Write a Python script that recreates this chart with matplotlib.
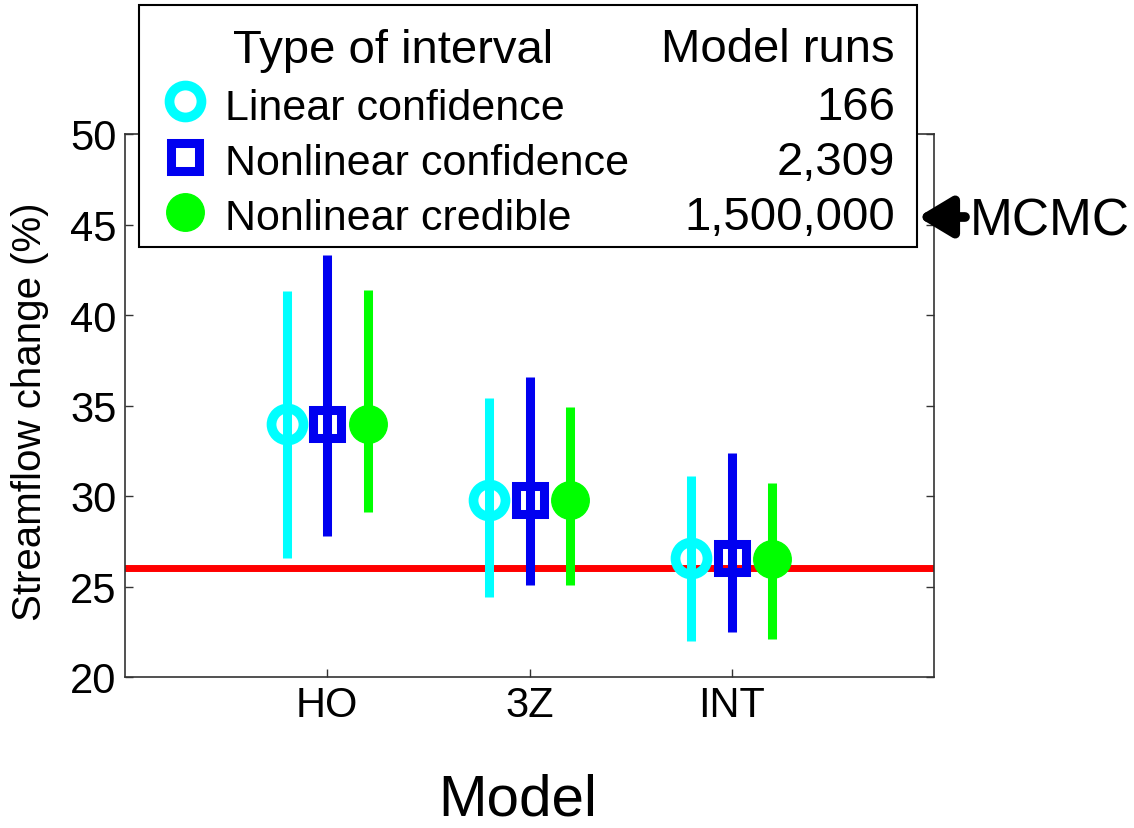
import matplotlib
matplotlib.use('Agg')
import matplotlib.pyplot as plt
from matplotlib.patches import Rectangle
from matplotlib.lines import Line2D

plt.rcParams['font.family'] = ['Liberation Sans', 'DejaVu Sans']

models = ['HO', '3Z', 'INT']
interval_types = ['Linear confidence', 'Nonlinear confidence', 'Nonlinear credible']
model_runs = ['166', '2,309', '1,500,000']

# best estimates and interval bounds, streamflow change (%)
linear_mid = [34.0, 29.8, 26.6]
linear_low = [26.6, 24.4, 22.0]
linear_high = [41.3, 35.4, 31.1]

nonlin_mid = [34.0, 29.8, 26.6]
nonlin_low = [27.8, 25.1, 22.5]
nonlin_high = [43.3, 36.6, 32.4]

cred_mid = [34.0, 29.8, 26.5]
cred_low = [29.1, 25.1, 22.1]
cred_high = [41.4, 34.9, 30.7]

observed = 26.0

W, H = 1134, 829


def px(x, y):
    # pixel position (from top-left) -> figure fraction
    return x / W, 1 - y / H


def main():
    fig = plt.figure(figsize=(W / 100, H / 100), dpi=100)
    ax = fig.add_axes([125 / W, 1 - 678 / H, (934 - 125) / W, (678 - 135) / H])

    series = [
        (linear_mid, linear_low, linear_high, '#00ffff', 'o', 'none', 23, 7),
        (nonlin_mid, nonlin_low, nonlin_high, '#0000f0', 's', 'none', 20, 6.5),
        (cred_mid, cred_low, cred_high, '#00ff00', 'o', '#00ff00', 27, 1),
    ]
    offsets = [-0.2, 0.0, 0.2]
    xpos = list(range(1, len(models) + 1))

    ax.axhline(observed, color='#ff0000', lw=5, zorder=1)

    for (mid, low, high, col, mk, fc, ms, mew), off in zip(series, offsets):
        xs = [x + off for x in xpos]
        ax.vlines(xs, low, high, colors=col, lw=6.5, zorder=2)
        ax.plot(xs, mid, linestyle='none', marker=mk, ms=ms, mew=mew,
                mec=col, mfc=fc, zorder=3)

    ax.set_xlim(0, 4)
    ax.set_ylim(20, 50)
    ax.set_yticks(range(20, 51, 5))
    ax.set_xticks(xpos)
    ax.set_xticklabels(models)
    ax.tick_params(direction='in', length=6, width=1, labelsize=30, pad=6,
                   right=True, top=True, color='#333333')
    for sp in ax.spines.values():
        sp.set_color('#333333')
        sp.set_linewidth(1.2)

    ax.set_ylabel('Streamflow change (%)', fontsize=29)
    ax.yaxis.set_label_coords((49 - 125) / 809, 0.49)
    ax.set_xlabel('Model', fontsize=42)
    ax.xaxis.label.set_verticalalignment('baseline')
    ax.xaxis.set_label_coords((518 - 125) / 809, (678 - 816) / 543)

    # legend box drawn above the axes
    x0, y0 = px(139, 248)
    x1, y1 = px(917, 6)
    fig.add_artist(Rectangle((x0, y0), x1 - x0, y1 - y0, transform=fig.transFigure,
                             facecolor='white', edgecolor='black', lw=1.5, zorder=5))

    fs = 31
    fs_head = 34
    fig.text(*px(233, 63), 'Type of interval', fontsize=fs_head, va='baseline', zorder=6)
    fig.text(*px(895, 62), 'Model runs', fontsize=fs_head, ha='right', va='baseline', zorder=6)

    marker_y = [102, 158, 213]
    base_y = [120, 175, 230]
    for (mid, low, high, col, mk, fc, ms, mew), label, runs, my, by in zip(
            series, interval_types, model_runs, marker_y, base_y):
        lx, ly = px(185, my)
        fig.add_artist(Line2D([lx], [ly], transform=fig.transFigure, marker=mk,
                              ms=ms, mew=mew, mec=col,
                              mfc='white' if fc == 'none' else fc, zorder=6))
        fig.text(*px(225, by), label, fontsize=fs, va='baseline', zorder=6)
        fig.text(*px(895, by), runs, fontsize=fs_head, ha='right', va='baseline', zorder=6)

    # arrow pointing at the MCMC row
    ax.annotate('', xy=px(918, 218), xytext=px(965, 218),
                xycoords='figure fraction', textcoords='figure fraction',
                arrowprops=dict(arrowstyle='-|>,head_length=0.5,head_width=0.3',
                                mutation_scale=40, lw=7, color='black',
                                shrinkA=0, shrinkB=0),
                annotation_clip=False, zorder=7)
    fig.text(*px(970, 236), 'MCMC', fontsize=37, va='baseline')

    fig.savefig('out.png', dpi=100)


if __name__ == "__main__":
    main()
